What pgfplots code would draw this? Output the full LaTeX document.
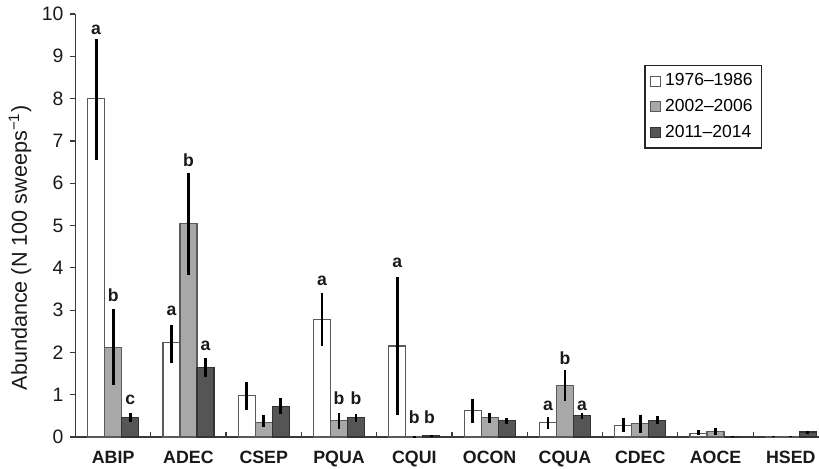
\documentclass[border=0pt]{standalone}
\usepackage{fontspec}
\setmainfont{Liberation Sans}
\usepackage{pgfplots}
\pgfplotsset{compat=1.18}
\usepackage{pgfplotstable}

\definecolor{bargray}{HTML}{A8A8A8}
\definecolor{bardark}{HTML}{555555}
\definecolor{edge}{HTML}{5A5A5A}
\definecolor{axisc}{HTML}{3A3A3A}

% 1976-1986
\pgfplotstableread{
x y ep em
0 8.00 1.42 1.45
1 2.24 0.41 0.48
2 0.99 0.30 0.34
3 2.78 0.62 0.62
4 2.15 1.64 1.62
5 0.62 0.28 0.28
6 0.34 0.13 0.15
7 0.28 0.17 0.16
8 0.09 0.07 0.05
9 0.00 0.02 0.00
}\tA
% 2002-2006
\pgfplotstableread{
x y ep em
0 2.12 0.91 0.89
1 5.05 1.20 1.22
2 0.35 0.16 0.12
3 0.39 0.18 0.20
4 0.01 0.02 0.01
5 0.46 0.11 0.14
6 1.21 0.37 0.36
7 0.31 0.22 0.21
8 0.13 0.08 0.08
9 0.00 0.02 0.00
}\tB
% 2011-2014
\pgfplotstableread{
x y ep em
0 0.47 0.10 0.11
1 1.65 0.22 0.22
2 0.73 0.19 0.19
3 0.47 0.07 0.11
4 0.03 0.01 0.01
5 0.39 0.07 0.08
6 0.50 0.07 0.08
7 0.39 0.10 0.08
8 0.00 0.02 0.00
9 0.12 0.03 0.05
}\tC
% significance letters (x, bottom of letter, letter)
\pgfplotstableread{
x y lab
-0.226 9.50 a
0.000 3.20 b
0.226 0.76 c
0.774 2.86 a
1.000 6.38 b
1.226 2.04 a
2.774 3.58 a
3.000 0.75 b
3.226 0.75 b
3.774 3.99 a
4.000 0.31 b
4.200 0.31 b
5.774 0.61 a
6.000 1.70 b
6.226 0.61 a
}\tL

\begin{document}
\begin{tikzpicture}
\begin{axis}[
  at={(0,0)}, anchor=south west,
  scale only axis, width=371.75pt, height=211.5pt,
  xmin=-0.5, xmax=9.374, ymin=0, ymax=10,
  axis lines*=left,
  axis line style={axisc, line width=0.7pt},
  every tick/.style={axisc, line width=0.6pt},
  major tick length=2.5pt,
  ytick={0,1,...,10},
  ytick align=outside,
  yticklabel style={font=\fontsize{9.7}{11}\selectfont, text=black!90},
  /pgf/number format/assume math mode=true,
  xtick={0.5,1.5,...,8.5}, xticklabels={},
  xtick align=inside,
  extra x ticks={0,1,...,9},
  extra x tick labels={ABIP,ADEC,CSEP,PQUA,CQUI,OCON,CQUA,CDEC,AOCE,HSED},
  extra x tick style={major tick length=0pt, tick label style={font=\bfseries\fontsize{8.9}{10}\selectfont, text=black!90, yshift=-3.5pt}},
  ylabel={Abundance (N 100 sweeps\textsuperscript{−1})},
  ylabel style={at={(axis description cs:-0.0746,0.447)}, anchor=center, font=\fontsize{10.8}{12}\selectfont, text=black!90},
  legend cell align=left,
  legend style={at={(0.9237,0.8794)}, anchor=north east, draw=black!85, line width=0.6pt,
    font=\fontsize{8.75}{10}\selectfont, inner xsep=2.5pt, inner ysep=2pt, row sep=1.2pt},
  clip=false,
]
\addplot[ybar, bar width=8.5pt, bar shift=-8.5pt, fill=white, draw=edge, line width=0.6pt,
  legend image code/.code={\draw[fill=white,draw=edge,line width=0.5pt] (0pt,-2.5pt) rectangle (5pt,2.5pt);},
  error bars/.cd, y dir=both, y explicit, error mark=none,
  error bar style={black, line width=1.4pt, xshift=-8.5pt}]
  table[x=x, y=y, y error plus=ep, y error minus=em]{\tA};
\addlegendentry{1976–1986}
\addplot[ybar, bar width=8.5pt, bar shift=0pt, fill=bargray, draw=edge, line width=0.6pt,
  legend image code/.code={\draw[fill=bargray,draw=edge,line width=0.5pt] (0pt,-2.5pt) rectangle (5pt,2.5pt);},
  error bars/.cd, y dir=both, y explicit, error mark=none,
  error bar style={black, line width=1.4pt}]
  table[x=x, y=y, y error plus=ep, y error minus=em]{\tB};
\addlegendentry{2002–2006}
\addplot[ybar, bar width=8.5pt, bar shift=8.5pt, fill=bardark, draw=black!80, line width=0.6pt,
  legend image code/.code={\draw[fill=bardark,draw=black!80,line width=0.5pt] (0pt,-2.5pt) rectangle (5pt,2.5pt);},
  error bars/.cd, y dir=both, y explicit, error mark=none,
  error bar style={black, line width=1.4pt, xshift=8.5pt}]
  table[x=x, y=y, y error plus=ep, y error minus=em]{\tC};
\addlegendentry{2011–2014}
\addplot[draw=none, mark=none, forget plot, nodes near coords, point meta=explicit symbolic,
  nodes near coords style={anchor=south, inner sep=0pt, font=\bfseries\fontsize{8.8}{10}\selectfont, text=black!90}]
  table[x=x, y=y, meta=lab]{\tL};
\end{axis}
\pgfresetboundingbox
\path[use as bounding box] (-37.75pt,-15.5pt) rectangle (371.75pt,218.5pt);
\end{tikzpicture}
\end{document}
